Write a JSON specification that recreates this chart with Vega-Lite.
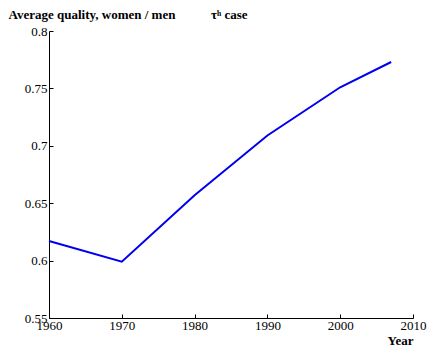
{
  "$schema": "https://vega.github.io/schema/vega-lite/v6.json",
  "width": 364,
  "height": 287,
  "autosize": {"type": "none"},
  "padding": {"left": 49, "top": 31, "right": 16, "bottom": 29},
  "background": "white",
  "title": {
    "text": "τʰ case",
    "anchor": "start",
    "frame": "group",
    "dx": 162,
    "offset": -14,
    "font": "Liberation Serif",
    "fontSize": 13,
    "fontWeight": "bold",
    "color": "black"
  },
  "data": {
    "values": [
      {"year": 1960, "ratio": 0.617},
      {"year": 1970, "ratio": 0.599},
      {"year": 1980, "ratio": 0.657},
      {"year": 1990, "ratio": 0.709},
      {"year": 2000, "ratio": 0.751},
      {"year": 2007, "ratio": 0.773}
    ]
  },
  "mark": {"type": "line", "color": "#0000ee", "strokeWidth": 2},
  "encoding": {
    "x": {
      "field": "year",
      "type": "quantitative",
      "scale": {"domain": [1960, 2010], "nice": false, "zero": false},
      "axis": {
        "values": [1960, 1970, 1980, 1990, 2000, 2010],
        "format": "d",
        "grid": false,
        "tickSize": -4,
        "labelPadding": 5,
        "title": "Year",
        "titleAngle": 0,
        "titleAlign": "right",
        "titleBaseline": "alphabetic",
        "titleX": 364,
        "titleY": 26,
        "titleFont": "Liberation Serif",
        "titleFontSize": 13,
        "titleFontWeight": "bold",
        "titleColor": "black",
        "labelFont": "Liberation Serif",
        "labelFontSize": 13,
        "labelColor": "black",
        "domainColor": "black",
        "tickColor": "black",
        "labelFlush": false
      }
    },
    "y": {
      "field": "ratio",
      "type": "quantitative",
      "scale": {"domain": [0.55, 0.8], "nice": false, "zero": false},
      "axis": {
        "values": [0.55, 0.6, 0.65, 0.7, 0.75, 0.8],
        "format": "~g",
        "grid": false,
        "tickSize": -4,
        "labelPadding": 6,
        "title": "Average quality, women / men",
        "titleAngle": 0,
        "titleAlign": "left",
        "titleBaseline": "alphabetic",
        "titleX": -41,
        "titleY": -13,
        "titleFont": "Liberation Serif",
        "titleFontSize": 13,
        "titleFontWeight": "bold",
        "titleColor": "black",
        "labelFont": "Liberation Serif",
        "labelFontSize": 13,
        "labelColor": "black",
        "domainColor": "black",
        "tickColor": "black",
        "labelFlush": false
      }
    }
  },
  "config": {"view": {"stroke": null}}
}
